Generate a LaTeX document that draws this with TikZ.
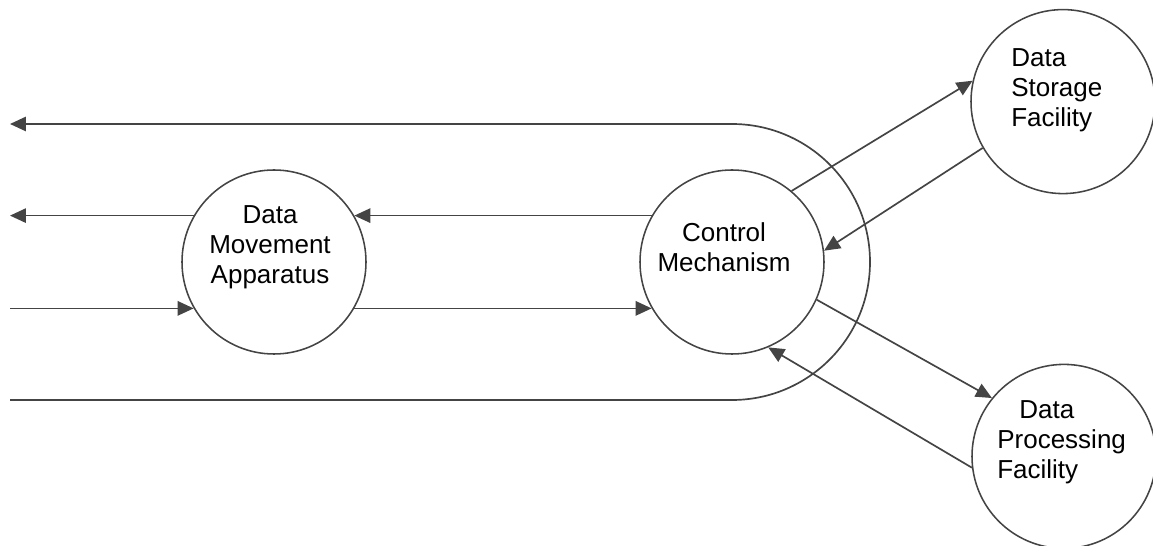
\documentclass[tikz,border=0pt]{standalone}
\usepackage{fontspec}
\setmainfont{Liberation Sans}
\usetikzlibrary{arrows.meta}
\definecolor{linegray}{RGB}{68,68,68}
\tikzset{
	unit/.style={circle,draw=linegray,line width=1.1pt,minimum size=4.6cm,inner sep=0pt},
	lbl/.style={inner sep=0pt,font=\fontsize{18.5}{21.5}\selectfont},
	wire/.style={draw=linegray,line width=1.2pt},
	flow/.style={wire,-{Triangle[length=0.4cm,width=0.36cm]}}
}
\begin{document}
\begin{tikzpicture}
	\useasboundingbox (0,0) rectangle (28.825,13.65);
	\node[unit] (dma) at (6.85,7.1) {};
	\node[unit] (ctrl) at (18.3,7.1) {};
	\node[unit] (store) at (26.575,11.11) {};
	\node[unit] (proc) at (26.6,2.24) {};
	\node[lbl,align=center] (dmaText) at (6.75,7.475) {Data\\Movement\\Apparatus};
	\node[lbl,align=center] (ctrlText) at (18.1,7.475) {Control\\Mechanism};
	\node[lbl,align=left,anchor=west] (storeText) at (25.275,11.4) {Data\\Storage\\Facility};
	\node[lbl,align=left,anchor=west] (procText) at (24.925,2.6) {\hspace*{0.55cm}Data\\Processing\\Facility};
	\coordinate (o1) at (0.25,10.55);
	\coordinate (o2) at (0.25,8.25);
	\coordinate (o3) at (0.25,5.95);
	\coordinate (o4) at (0.25,3.65);
	% loop round the control mechanism
	\draw[flow] (o4) -- (ctrl.center |- o4) arc[start angle=-90,end angle=90,radius=3.45cm] -- (o1);
	\draw[flow] (dma.150) -- (dma.150 -| o2);
	\draw[flow] (ctrl.150) -- (dma.30);
	\draw[flow] (o3 |- dma.210) -- (dma.210);
	\draw[flow] (dma.-30) -- (ctrl.210);
	% links to the facilities
	\draw[flow] (ctrl.50) -- (store.167);
	\draw[flow] (store.210) -- (ctrl.7.5);
	\draw[flow] (ctrl.-24) -- (proc.141);
	\draw[flow] (proc.187) -- (ctrl.-67);
\end{tikzpicture}
\end{document}
